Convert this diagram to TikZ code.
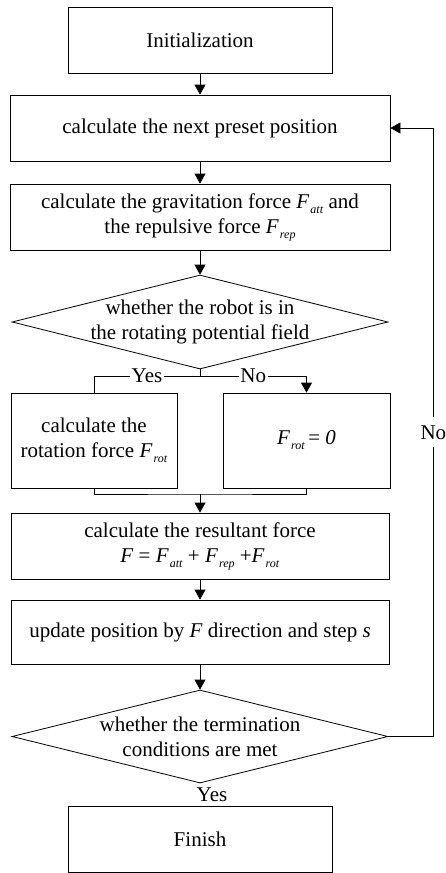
\documentclass[tikz,border=0pt]{standalone}
\usepackage{fontspec}
\setmainfont{Liberation Serif}
\usetikzlibrary{shapes.geometric,arrows.meta}
\newcommand{\Fsub}[1]{\textit{F}\kern1pt\raisebox{-5pt}{\fontsize{12}{12}\selectfont\textit{#1}}}
\begin{document}
\begin{tikzpicture}[x=1pt,y=1pt,
  font=\fontsize{21}{25}\selectfont,
  every path/.style={line width=0.8pt},
  box/.style={draw, align=center, inner sep=2pt},
  decision/.style={draw, diamond, aspect=4, inner sep=0pt, minimum width=376pt, minimum height=94pt},
  lbl/.style={fill=white, inner sep=1.5pt},
  >={Triangle[length=10pt,width=11pt]}]
\useasboundingbox (0,0) rectangle (445,-873);
\node[box, minimum width=264pt, minimum height=66pt] (init) at (200,-40) {Initialization};
\node[box, minimum width=380pt, minimum height=66pt] (preset) at (200,-128) {calculate the next preset position};
\node[box, minimum width=380pt, minimum height=66pt] (forces) at (200,-217)
{calculate the gravitation force \Fsub{att} and\\the repulsive force \Fsub{rep}};
\node[decision] (field) at (200,-322) {};
\node[align=center] (fieldtxt) at (field) {whether the robot is in\\the rotating potential field};
\node[box, minimum width=166pt, minimum height=95pt] (rotf) at (94,-440.5) {calculate the\\rotation force \Fsub{rot}};
\node[box, minimum width=167pt, minimum height=95pt] (zero) at (306.5,-440.5) {\Fsub{rot}\,= \textit{0}};
\node[box, minimum width=378pt, minimum height=66pt] (result) at (200,-546)
{calculate the resultant force\\\textit{F} = \Fsub{att} + \Fsub{rep} +\Fsub{rot}};
\node[box, minimum width=378pt, minimum height=64pt] (update) at (200,-632) {update position by \textit{F} direction and step \textit{s}};
\node[decision, minimum height=93pt] (term) at (200,-736.5) {};
\node[align=center] (termtxt) at (term) {whether the termination\\conditions are met};
\node (yes) at (212,-795) {Yes};
\node[box, minimum width=264pt, minimum height=66pt] (finish) at (200,-839) {Finish};
\coordinate (split) at (200,-376);
\coordinate (merge) at (200,-494);
\draw[->] (init) -- (preset);
\draw[->] (preset) -- (forces);
\draw[->] (forces) -- (field);
\draw (field.south) -- (split);
\draw (split) -| node[lbl, pos=0.25] {Yes} (rotf.north);
\draw[->] (split) -| node[lbl, pos=0.25] {No} (zero.north);
\draw (rotf.south) |- (merge) -| (zero.south);
\draw[->] (merge) -- (result);
\draw[->] (result) -- (update);
\draw[->] (update) -- (term);
\draw[->] (term.east) -- ++(45,0) |- node[lbl, pos=0.25, inner ysep=8pt] {No} (preset.east);
\end{tikzpicture}
\end{document}
